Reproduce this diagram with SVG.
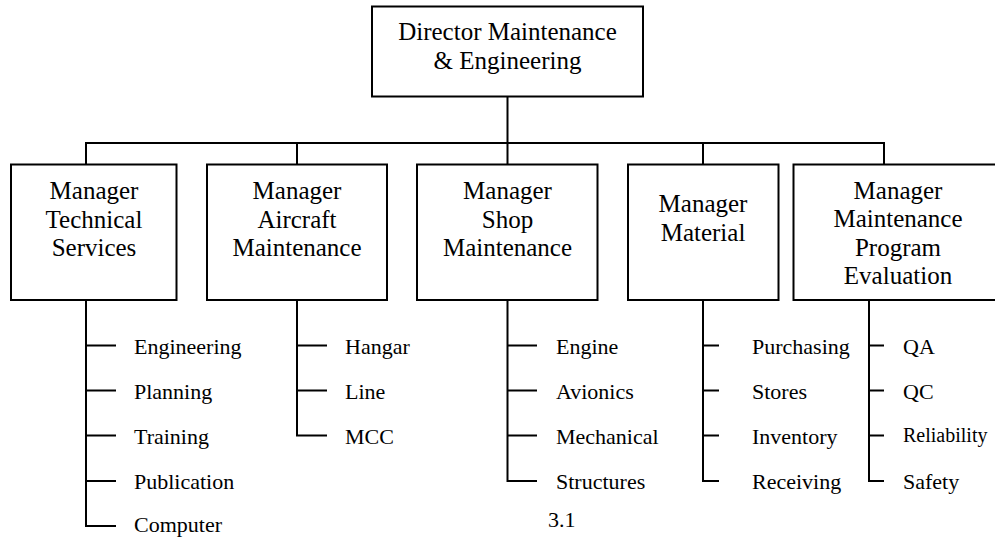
<svg xmlns="http://www.w3.org/2000/svg" width="995" height="537" viewBox="0 0 995 537">
<style>
  .box { fill: #fff; stroke: #000; stroke-width: 2; }
  .ln { fill: none; stroke: #000; stroke-width: 2; }
  text { font-family: "Liberation Serif", "DejaVu Serif", serif; fill: #000; }
  .bt { font-size: 25px; text-anchor: middle; }
  .lt { font-size: 22px; }
</style>
<rect width="995" height="537" fill="#fff"/>
<g id="connectors">
  <path class="ln" d="M507.5 97 V164.5 M86 164.5 V143 H884 V164.5 M297 143 V164.5 M703 143 V164.5"/>
  <path class="ln" d="M86 300 V526 H116 M86 345.5 H116 M86 390.5 H116 M86 435.5 H116 M86 481 H116"/>
  <path class="ln" d="M297 300 V435.5 H327 M297 345.5 H327 M297 390.5 H327"/>
  <path class="ln" d="M507.5 300 V481 H537 M507.5 345.5 H537 M507.5 390.5 H537 M507.5 435.5 H537"/>
  <path class="ln" d="M703 300 V481 H719 M703 345.5 H719 M703 390.5 H719 M703 435.5 H719"/>
  <path class="ln" d="M869 300 V481 H884 M869 345.5 H884 M869 390.5 H884 M869 435.5 H884"/>
</g>
<g id="director">
  <rect class="box" x="372" y="6.5" width="271" height="90"/>
  <text class="bt" x="507.5" y="39.5" font-family="Liberation Serif, serif">Director Maintenance</text>
  <text class="bt" x="507.5" y="68.5">&amp; Engineering</text>
</g>
<g id="mgr-technical">
  <rect class="box" x="11" y="164.5" width="165.5" height="135.5"/>
  <text class="bt" x="94" y="199">Manager</text>
  <text class="bt" x="94" y="227.5">Technical</text>
  <text class="bt" x="94" y="256">Services</text>
</g>
<g id="mgr-aircraft">
  <rect class="box" x="207" y="164.5" width="180" height="135.5"/>
  <text class="bt" x="297" y="199">Manager</text>
  <text class="bt" x="297" y="227.5">Aircraft</text>
  <text class="bt" x="297" y="256">Maintenance</text>
</g>
<g id="mgr-shop">
  <rect class="box" x="417" y="164.5" width="180.5" height="135.5"/>
  <text class="bt" x="507.5" y="199">Manager</text>
  <text class="bt" x="507.5" y="227.5">Shop</text>
  <text class="bt" x="507.5" y="256">Maintenance</text>
</g>
<g id="mgr-material">
  <rect class="box" x="628" y="164.5" width="150.5" height="135.5"/>
  <text class="bt" x="703" y="212">Manager</text>
  <text class="bt" x="703" y="240.5">Material</text>
</g>
<g id="mgr-program">
  <rect class="box" x="793.5" y="164.5" width="210" height="135.5"/>
  <text class="bt" x="898" y="198.5">Manager</text>
  <text class="bt" x="898" y="227">Maintenance</text>
  <text class="bt" x="898" y="255.5">Program</text>
  <text class="bt" x="898" y="284">Evaluation</text>
</g>
<g id="tech-items">
  <text class="lt" x="134" y="353.5">Engineering</text>
  <text class="lt" x="134" y="398.5">Planning</text>
  <text class="lt" x="134" y="443.5">Training</text>
  <text class="lt" x="134" y="489">Publication</text>
  <text class="lt" x="134" y="532">Computer</text>
</g>
<g id="aircraft-items">
  <text class="lt" x="345" y="353.5">Hangar</text>
  <text class="lt" x="345" y="398.5">Line</text>
  <text class="lt" x="345" y="443.5">MCC</text>
</g>
<g id="shop-items">
  <text class="lt" x="556" y="353.5">Engine</text>
  <text class="lt" x="556" y="398.5">Avionics</text>
  <text class="lt" x="556" y="443.5">Mechanical</text>
  <text class="lt" x="556" y="489">Structures</text>
</g>
<g id="material-items">
  <text class="lt" x="752" y="353.5">Purchasing</text>
  <text class="lt" x="752" y="398.5">Stores</text>
  <text class="lt" x="752" y="443.5">Inventory</text>
  <text class="lt" x="752" y="489">Receiving</text>
</g>
<g id="program-items">
  <text class="lt" x="903" y="353.5">QA</text>
  <text class="lt" x="903" y="398.5">QC</text>
  <text class="lt" x="903" y="442" style="font-size:20px">Reliability</text>
  <text class="lt" x="903" y="489">Safety</text>
</g>
<text class="lt" x="548" y="527">3.1</text>
</svg>
